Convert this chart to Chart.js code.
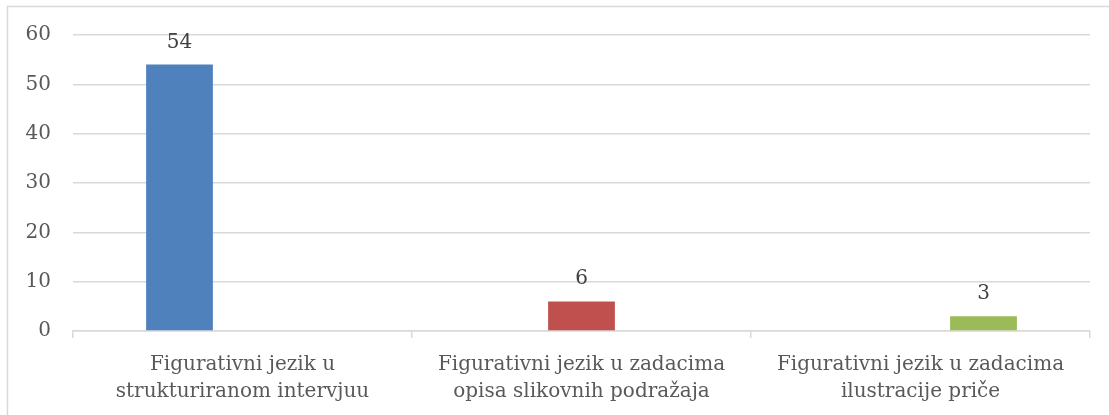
<!DOCTYPE html>
<html>
<head>
<meta charset="utf-8">
<script src="https://cdn.jsdelivr.net/npm/chart.js@4/dist/chart.umd.min.js"></script>
<style>
  html, body { margin: 0; padding: 0; background: #fff; }
  #wrap { width: 1109px; height: 415px; position: relative; }
</style>
</head>
<body>
<div id="wrap"><canvas id="chart" width="1109" height="415"></canvas></div>
<script>
// categories and values
const categories = [
  ["Figurativni jezik u", "strukturiranom intervjuu"],
  ["Figurativni jezik u zadacima", "opisa slikovnih podražaja"],
  ["Figurativni jezik u zadacima", "ilustracije priče"]
];
const values = [54, 6, 3];
const barColors = ["#4f81bd", "#c0504d", "#9bbb59"];
const yTicks = [0, 10, 20, 30, 40, 50, 60];

const FONT = "'DejaVu Serif', serif";

// one series per category, like the original sheet
const datasets = values.map((v, i) => ({
  label: categories[i].join(" "),
  data: categories.map((_, j) => (j === i ? v : null)),
  backgroundColor: barColors[i],
  barPercentage: 1.06,
  categoryPercentage: 0.5575
}));

// outer frame of the chart object
const framePlugin = {
  id: "frame",
  beforeDraw(chart) {
    const c = chart.ctx;
    c.save();
    c.strokeStyle = "#d9d9d9";
    c.lineWidth = 1.5;
    c.beginPath();
    c.moveTo(7.5, 420);
    c.lineTo(7.5, 6.5);
    c.lineTo(1109, 6.5);
    c.stroke();
    c.restore();
  }
};

// value labels above bars
const valueLabels = {
  id: "valueLabels",
  afterDatasetsDraw(chart) {
    const c = chart.ctx;
    c.save();
    c.font = "20px " + FONT;
    c.fillStyle = "#404040";
    c.textAlign = "center";
    c.textBaseline = "alphabetic";
    chart.data.datasets.forEach((ds, i) => {
      chart.getDatasetMeta(i).data.forEach((bar, j) => {
        if (ds.data[j] == null) return;
        c.fillText(ds.data[j], bar.x, bar.y - 17);
      });
    });
    c.restore();
  }
};

new Chart(document.getElementById("chart"), {
  type: "bar",
  data: { labels: categories, datasets: datasets },
  options: {
    responsive: false,
    animation: false,
    layout: { padding: { top: 35, right: 19, bottom: 0, left: 0 } },
    plugins: {
      legend: { display: false },
      tooltip: { enabled: false }
    },
    scales: {
      x: {
        grid: {
          offset: true,
          drawOnChartArea: false,
          drawTicks: true,
          tickLength: 7,
          color: "#d9d9d9",
          lineWidth: 1.5
        },
        border: { color: "#d9d9d9", width: 1.5 },
        ticks: {
          font: { family: FONT, size: 20, lineHeight: 1.35 },
          color: "#595959",
          padding: 13,
          maxRotation: 0,
          autoSkip: false
        },
        afterFit(scale) { scale.height = 84; }
      },
      y: {
        min: 0,
        max: 60,
        afterBuildTicks(scale) { scale.ticks = yTicks.map(v => ({ value: v })); },
        grid: { color: "#d9d9d9", lineWidth: 1.5, drawTicks: false },
        border: { display: false },
        ticks: {
          font: { family: FONT, size: 20 },
          color: "#595959",
          padding: 22
        },
        afterFit(scale) { scale.width = 73; }
      }
    }
  },
  plugins: [framePlugin, valueLabels]
});
</script>
</body>
</html>
